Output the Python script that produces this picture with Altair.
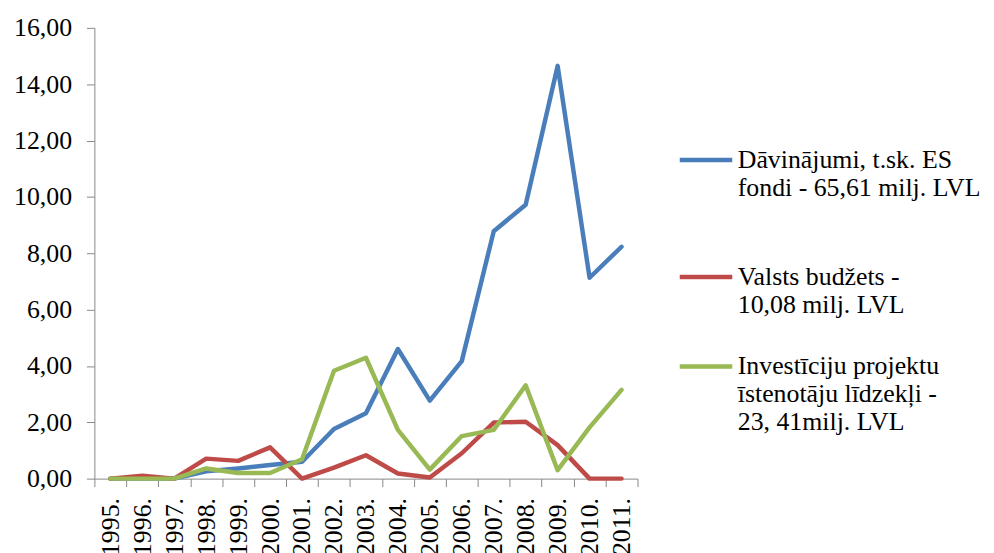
import altair as alt
import pandas as pd

years = ["1995.", "1996.", "1997.", "1998.", "1999.", "2000.", "2001.", "2002.",
         "2003.", "2004.", "2005.", "2006.", "2007.", "2008.", "2009.", "2010.", "2011."]

series_names = [
    "Dāvinājumi, t.sk. ES|fondi - 65,61 milj. LVL| ",
    "Valsts budžets -|10,08 milj. LVL",
    "Investīciju projektu|īstenotāju līdzekļi -|23, 41milj. LVL",
]

davinajumi = [0.00, 0.00, 0.00, 0.26, 0.36, 0.48, 0.60, 1.76, 2.32, 4.60, 2.77, 4.17,
              8.78, 9.72, 14.65, 7.13, 8.23]
valsts_budzets = [0.00, 0.10, 0.00, 0.71, 0.63, 1.11, 0.00, 0.39, 0.83, 0.18, 0.04, 0.90,
                  1.99, 2.02, 1.19, 0.00, 0.00]
investiciju = [0.00, 0.00, 0.00, 0.36, 0.20, 0.20, 0.69, 3.83, 4.29, 1.73, 0.32, 1.51,
               1.73, 3.31, 0.30, 1.82, 3.15]

colors = ["#4A7EBB", "#BE4B48", "#98B954"]

rows = []
for name, vals in zip(series_names, [davinajumi, valsts_budzets, investiciju]):
    for y, v in zip(years, vals):
        rows.append({"year": y, "value": v, "series": name})
df = pd.DataFrame(rows)

FONT = "Times New Roman"

base = alt.Chart(df).mark_line(strokeWidth=4.5, strokeJoin="round", strokeCap="round").encode(
    x=alt.X("year:O", sort=years, title=None,
            scale=alt.Scale(type="band", paddingInner=0, paddingOuter=0),
            bandPosition=0.5,
            axis=alt.Axis(labelAngle=270, tickBand="extent", tickSize=8,
                          labelPadding=11, labelFontSize=26, labelFont=FONT,
                          labelColor="#000000", domainColor="#888888",
                          tickColor="#888888", labelLimit=200)),
    y=alt.Y("value:Q", title=None,
            scale=alt.Scale(domain=[0, 16], nice=False),
            axis=alt.Axis(values=[0, 2, 4, 6, 8, 10, 12, 14, 16], grid=False,
                          labelExpr="replace(format(datum.value, '.2f'), '.', ',')",
                          tickSize=8, labelPadding=15, labelFontSize=26, labelFont=FONT,
                          labelColor="#000000", domainColor="#888888",
                          tickColor="#888888")),
    color=alt.Color("series:N",
                    scale=alt.Scale(domain=series_names, range=colors),
                    legend=alt.Legend(title=None, orient="none", legendX=587, legendY=104,
                                      labelExpr="split(datum.label, '|')",
                                      labelFont=FONT, labelFontSize=26, labelColor="#000000",
                                      labelLimit=400, symbolType="stroke",
                                      symbolSize=2800, symbolStrokeWidth=4.5,
                                      rowPadding=20, labelOffset=3)),
)

layers = [base.transform_filter(alt.datum.series == name) for name in series_names]

chart = alt.layer(*layers).properties(width=547, height=454).configure_view(stroke=None)

chart.save("out.html", embed_options={"renderer": "svg", "actions": False})
